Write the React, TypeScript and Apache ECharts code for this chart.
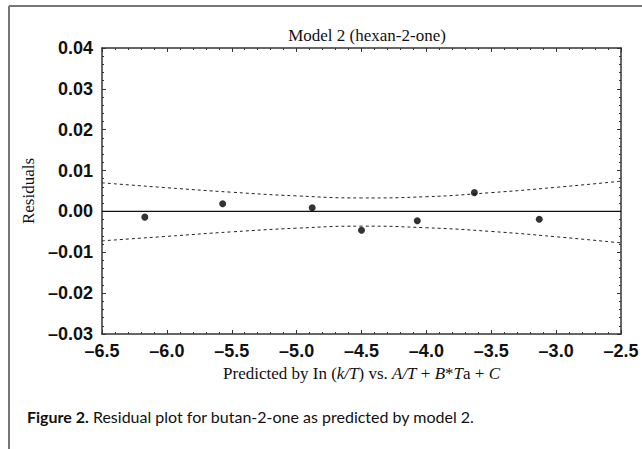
import React, { useEffect, useRef } from "react";
import * as echarts from "echarts";

const xTicks = [-6.5, -6.0, -5.5, -5.0, -4.5, -4.0, -3.5, -3.0, -2.5];
const yTicks = [-0.03, -0.02, -0.01, 0.0, 0.01, 0.02, 0.03, 0.04];

const residualX = [-6.17, -5.57, -4.88, -4.5, -4.07, -3.63, -3.13];
const residualY = [-0.0014, 0.0019, 0.0009, -0.0046, -0.0023, 0.0046, -0.0019];

const bandX = [-6.5, -6.0, -5.5, -5.0, -4.5, -4.0, -3.5, -3.0, -2.5];
const bandUpper = [0.007, 0.0058, 0.0047, 0.0038, 0.0033, 0.0036, 0.0046, 0.0059, 0.0074];
const bandLower = [-0.0072, -0.0061, -0.005, -0.0041, -0.0036, -0.004, -0.0049, -0.0062, -0.0077];

const zeroLineX = [-6.5, -2.5];

const title = "Model 2 (hexan-2-one)";
const yName = "Residuals";
const captionBold = "Figure 2.";
const captionText = " Residual plot for butan-2-one as predicted by model 2.";

const fmtX = (v: number) => v.toFixed(1).replace("-", "\u2013");
const fmtY = (v: number) => v.toFixed(2).replace("-", "\u2013");

export default function App() {
  const ref = useRef<HTMLDivElement>(null);
  useEffect(() => {
    if (!ref.current) return;
    const chart = echarts.init(ref.current, null, { renderer: "svg" });
    const axisCol = "#333";
    const tickCommon = {
      axisLine: { show: true, onZero: false, lineStyle: { color: axisCol, width: 1.5 } },
      axisTick: { show: true, inside: true, length: 4, lineStyle: { color: axisCol } },
      minorTick: { show: true, splitNumber: 5, length: 2, lineStyle: { color: axisCol } },
      splitLine: { show: false },
    };
    const labelFont = {
      fontFamily: "Liberation Sans, Arial, sans-serif",
      fontWeight: "bold" as const,
      fontSize: 18,
      color: "#111",
    };
    chart.setOption({
      animation: false,
      backgroundColor: "#fff",
      title: {
        text: title,
        left: 362,
        top: 22,
        textAlign: "center",
        textStyle: {
          fontFamily: "Liberation Serif, Times New Roman, serif",
          fontWeight: "normal",
          fontSize: 17,
          color: "#111",
        },
      },
      grid: { left: 102, right: 21, top: 48, bottom: 115 },
      xAxis: [
        {
          type: "value",
          min: xTicks[0],
          max: xTicks[xTicks.length - 1],
          interval: 0.5,
          position: "bottom",
          ...tickCommon,
          axisLabel: { ...labelFont, margin: 8, formatter: fmtX },
          name: "Predicted by In ({i|k/T}) vs. {i|A/T} + {i|B}*{i|T}a + {i|C}",
          nameLocation: "middle",
          nameGap: 30,
          nameTextStyle: {
            fontFamily: "Liberation Serif, Times New Roman, serif",
            fontSize: 17,
            color: "#111",
            rich: {
              i: {
                fontFamily: "Liberation Serif, Times New Roman, serif",
                fontStyle: "italic",
                fontSize: 17,
                color: "#111",
              },
            },
          },
        },
        {
          type: "value",
          min: xTicks[0],
          max: xTicks[xTicks.length - 1],
          interval: 0.5,
          position: "top",
          ...tickCommon,
          axisLabel: { show: false },
        },
      ],
      yAxis: [
        {
          type: "value",
          min: yTicks[0],
          max: yTicks[yTicks.length - 1],
          interval: 0.01,
          position: "left",
          ...tickCommon,
          axisLabel: { ...labelFont, margin: 9, formatter: fmtY },
          name: yName,
          nameLocation: "middle",
          nameGap: 64,
          nameTextStyle: {
            fontFamily: "Liberation Serif, Times New Roman, serif",
            fontSize: 17,
            color: "#111",
          },
        },
        {
          type: "value",
          min: yTicks[0],
          max: yTicks[yTicks.length - 1],
          interval: 0.01,
          position: "right",
          ...tickCommon,
          axisLabel: { show: false },
        },
      ],
      series: [
        {
          type: "line",
          data: zeroLineX.map((x) => [x, 0]),
          symbol: "none",
          lineStyle: { color: "#111", width: 1.2 },
          silent: true,
        },
        {
          type: "line",
          data: bandX.map((x, i) => [x, bandUpper[i]]),
          symbol: "none",
          smooth: true,
          lineStyle: { color: "#222", width: 1, type: [3, 3] },
        },
        {
          type: "line",
          data: bandX.map((x, i) => [x, bandLower[i]]),
          symbol: "none",
          smooth: true,
          lineStyle: { color: "#222", width: 1, type: [3, 3] },
        },
        {
          type: "scatter",
          data: residualX.map((x, i) => [x, residualY[i]]),
          symbol: "circle",
          symbolSize: 7,
          itemStyle: { color: "#000" },
          z: 5,
        },
      ],
      graphic: [
        {
          type: "line",
          shape: { x1: 9, y1: 6, x2: 642, y2: 6 },
          style: { stroke: "#777", lineWidth: 2 },
        },
        {
          type: "line",
          shape: { x1: 9, y1: 6, x2: 9, y2: 449 },
          style: { stroke: "#777", lineWidth: 2 },
        },
        {
          type: "text",
          x: 27,
          y: 416,
          style: {
            text: "{b|" + captionBold + "}{r|" + captionText + "}",
            verticalAlign: "middle",
            rich: {
              b: {
                fontFamily: "Lato, Open Sans, sans-serif",
                fontWeight: "bold",
                fontSize: 16,
                fill: "#111",
              },
              r: {
                fontFamily: "Lato, Open Sans, sans-serif",
                fontSize: 16,
                fill: "#111",
              },
            },
          },
        },
      ],
    });
    return () => chart.dispose();
  }, []);
  return (
    <div
      ref={ref}
      style={{ position: "fixed", left: 0, top: 0, width: 642, height: 449 }}
    />
  );
}
